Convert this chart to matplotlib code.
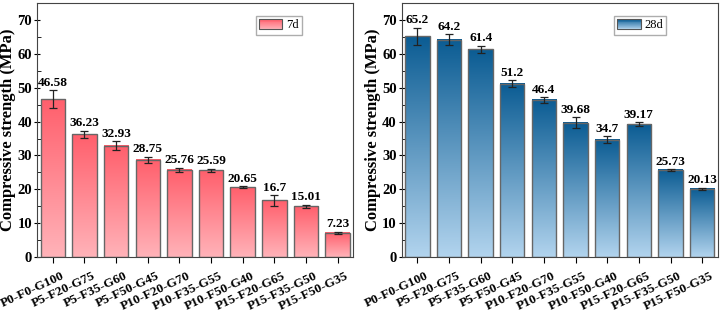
import numpy as np
import matplotlib
matplotlib.use("Agg")
import matplotlib.pyplot as plt
from matplotlib.colors import LinearSegmentedColormap, to_rgb
from matplotlib.patches import Rectangle
from matplotlib.legend_handler import HandlerBase
from matplotlib.transforms import ScaledTranslation

plt.rcParams['font.family'] = ['Liberation Serif', 'DejaVu Serif']
plt.rcParams['font.weight'] = 'bold'

groups = ['P0-F0-G100', 'P5-F20-G75', 'P5-F35-G60', 'P5-F50-G45', 'P10-F20-G70',
          'P10-F35-G55', 'P10-F50-G40', 'P15-F20-G65', 'P15-F35-G50', 'P15-F50-G35']
s7 = [46.58, 36.23, 32.93, 28.75, 25.76, 25.59, 20.65, 16.7, 15.01, 7.23]
e7 = [2.7, 1.1, 1.3, 0.9, 0.6, 0.5, 0.2, 1.5, 0.5, 0.3]
l7 = ['46.58', '36.23', '32.93', '28.75', '25.76', '25.59', '20.65', '16.7', '15.01', '7.23']
s28 = [65.2, 64.2, 61.4, 51.2, 46.4, 39.68, 34.7, 39.17, 25.73, 20.13]
e28 = [2.5, 1.6, 1.0, 1.1, 0.8, 1.7, 1.0, 0.6, 0.3, 0.4]
l28 = ['65.2', '64.2', '61.4', '51.2', '46.4', '39.68', '34.7', '39.17', '25.73', '20.13']


class GradHandler(HandlerBase):
    def __init__(self, top, bottom):
        super().__init__()
        self.top = np.array(to_rgb(top))
        self.bottom = np.array(to_rgb(bottom))

    def create_artists(self, legend, orig, xd, yd, w, h, fs, trans):
        arts = []
        n = 12
        for i in range(n):
            f = i / (n - 1)
            c = self.bottom * (1 - f) + self.top * f
            arts.append(Rectangle((-xd, -yd + h * i / n), w, h / n + 0.3,
                                  facecolor=c, edgecolor='none', transform=trans))
        arts.append(Rectangle((-xd, -yd), w, h, facecolor='none',
                              edgecolor='#555555', lw=0.8, transform=trans))
        return arts


def panel(fig, ax, vals, errs, labels, top, bottom, name):
    x = np.arange(len(vals))
    cmap = LinearSegmentedColormap.from_list('g', [bottom, top])
    grad = np.linspace(0, 1, 256).reshape(-1, 1)
    bars = ax.bar(x, vals, width=0.77, color='none', edgecolor='#666666', lw=1.0, zorder=3)
    for b in bars:
        x0 = b.get_x()
        ax.imshow(grad, extent=[x0, x0 + b.get_width(), 0, b.get_height()], origin='lower',
                  cmap=cmap, aspect='auto', zorder=2)
    ax.errorbar(x, vals, yerr=errs, fmt='none', ecolor='#222222', elinewidth=0.9,
                capsize=3, capthick=0.9, zorder=4)
    for xi, v, e, t in zip(x, vals, errs, labels):
        ax.text(xi, v + e + 0.4, t, ha='center', va='bottom', fontsize=9.5, fontweight='bold')
    ax.set_xlim(-0.5, len(vals) - 0.5)
    ax.set_ylim(0, 75)
    ax.set_yticks(range(0, 71, 10))
    ax.set_yticks(range(0, 76, 5), minor=True)
    ax.set_xticks(x)
    ax.tick_params(axis='y', which='major', direction='inout', length=5, labelsize=10.5, pad=1)
    ax.tick_params(axis='y', which='minor', direction='in', length=3)
    ax.tick_params(axis='x', direction='out', length=4, pad=3)
    ax.set_xticklabels(groups, rotation=25, ha='right', rotation_mode='anchor', fontsize=9.5)
    off = ScaledTranslation(0.08, -0.03, fig.dpi_scale_trans)
    for lab in ax.get_xticklabels():
        lab.set_transform(lab.get_transform() + off)
    ax.set_ylabel('Compressive strength (MPa)', fontsize=12, fontweight='bold', labelpad=1)
    for s in ax.spines.values():
        s.set_color('#444444')
    h = Rectangle((0, 0), 1, 1)
    ax.legend([h], [name], loc='upper right', bbox_to_anchor=(0.845, 0.96),
              handler_map={Rectangle: GradHandler(top, bottom)},
              prop={'size': 9, 'weight': 'normal'},
              fancybox=False, edgecolor='#999999', handlelength=1.9, handleheight=0.9,
              borderpad=0.25, handletextpad=0.3, borderaxespad=0.2)


fig, (ax1, ax2) = plt.subplots(1, 2, figsize=(7.21, 3.14), dpi=100)
panel(fig, ax1, s7, e7, l7, '#ff5f6c', '#ffb3b9', '7d')
panel(fig, ax2, s28, e28, l28, '#0b5c93', '#b2d4ee', '28d')
fig.subplots_adjust(left=0.0513, right=0.9958, top=0.99, bottom=0.1815, wspace=0.152)
fig.savefig('out.png', dpi=100)
